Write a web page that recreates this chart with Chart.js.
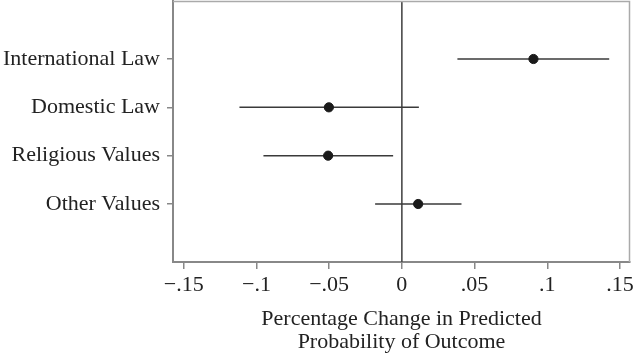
<!DOCTYPE html>
<html>
<head>
<meta charset="utf-8">
<script src="https://cdn.jsdelivr.net/npm/chart.js@4/dist/chart.umd.min.js"></script>
<style>
html,body{margin:0;padding:0;background:#fff;}
#wrap{width:637px;height:356px;}
</style>
</head>
<body>
<div id="wrap"><canvas id="c" width="637" height="356"></canvas></div>
<script>
const categories = ["International Law", "Domestic Law", "Religious Values", "Other Values"];
const categoryPos = [1, 2, 3, 4];
const estimates = [0.0905, -0.0502, -0.0507, 0.0112];
const ciLower = [0.0382, -0.1117, -0.0952, -0.0184];
const ciUpper = [0.1426, 0.0117, -0.0060, 0.0410];
const xTickValues = [-0.15, -0.1, -0.05, 0, 0.05, 0.1, 0.15];
const xTickLabels = ["\u2212.15", "\u2212.1", "\u2212.05", "0", ".05", ".1", ".15"];
const xTitle = ["Percentage Change in Predicted", "Probability of Outcome"];

const FONT = "'Liberation Serif', 'Times New Roman', serif";

const datasets = [];
categories.forEach((c, i) => {
  datasets.push({
    type: 'line',
    label: c + ' CI',
    data: [{x: ciLower[i], y: categoryPos[i]}, {x: ciUpper[i], y: categoryPos[i]}],
    borderColor: '#3a3a3a',
    borderWidth: 1.5,
    pointRadius: 0,
    fill: false,
    order: 2
  });
});
datasets.push({
  type: 'line',
  label: 'zero',
  data: [{x: 0, y: -0.2}, {x: 0, y: 5.2}],
  borderColor: '#4a4a4a',
  borderWidth: 1.6,
  pointRadius: 0,
  fill: false,
  order: 3
});
datasets.push({
  type: 'scatter',
  label: 'Estimate',
  data: estimates.map((v, i) => ({x: v, y: categoryPos[i]})),
  backgroundColor: '#1a1a1a',
  borderColor: '#1a1a1a',
  pointRadius: 4.6,
  order: 1
});

const boxPlugin = {
  id: 'box',
  afterDraw(chart) {
    const a = chart.chartArea, ctx = chart.ctx;
    ctx.save();
    ctx.strokeStyle = '#aaaaaa';
    ctx.lineWidth = 1.5;
    ctx.beginPath();
    ctx.moveTo(a.left, a.top + 0.5);
    ctx.lineTo(a.right - 0.5, a.top + 0.5);
    ctx.lineTo(a.right - 0.5, a.bottom);
    ctx.stroke();
    ctx.restore();
  }
};

new Chart(document.getElementById('c'), {
  type: 'scatter',
  data: { datasets },
  plugins: [boxPlugin],
  options: {
    responsive: false,
    animation: false,
    layout: { autoPadding: false, padding: { top: 1, right: 7, left: 0, bottom: 0 } },
    plugins: { legend: { display: false }, tooltip: { enabled: false } },
    scales: {
      x: {
        type: 'linear',
        min: -0.1574,
        max: 0.1569,
        afterBuildTicks(scale) { scale.ticks = xTickValues.map(v => ({value: v})); },
        afterFit(scale) { scale.height = 94; scale.paddingLeft = 0; scale.paddingRight = 0; },
        ticks: {
          font: { family: FONT, size: 22 },
          color: '#222',
          padding: 3,
          maxRotation: 0,
          autoSkip: false,
          callback(v) { const k = xTickValues.findIndex(t => Math.abs(t - v) < 1e-9); return k >= 0 ? xTickLabels[k] : ''; }
        },
        grid: { drawOnChartArea: false, drawTicks: true, tickLength: 7, color: '#888', lineWidth: 1.5 },
        border: { display: true, color: '#888', width: 2 },
        title: {
          display: true,
          text: xTitle,
          font: { family: FONT, size: 22, lineHeight: 1.05 },
          color: '#222',
          padding: { top: 0, bottom: 2 }
        }
      },
      y: {
        type: 'linear',
        reverse: true,
        min: -0.2,
        max: 5.2,
        afterBuildTicks(scale) { scale.ticks = categoryPos.map(v => ({value: v})); },
        afterFit(scale) { scale.width = 173; scale.paddingTop = 0; scale.paddingBottom = 0; },
        ticks: {
          font: { family: FONT, size: 22 },
          color: '#222',
          padding: 7,
          autoSkip: false,
          callback(v) { const k = categoryPos.indexOf(v); return k >= 0 ? categories[k] : ''; }
        },
        grid: { drawOnChartArea: false, drawTicks: true, tickLength: 6, color: '#888', lineWidth: 1.5 },
        border: { display: true, color: '#888', width: 2 }
      }
    }
  }
});
</script>
</body>
</html>
